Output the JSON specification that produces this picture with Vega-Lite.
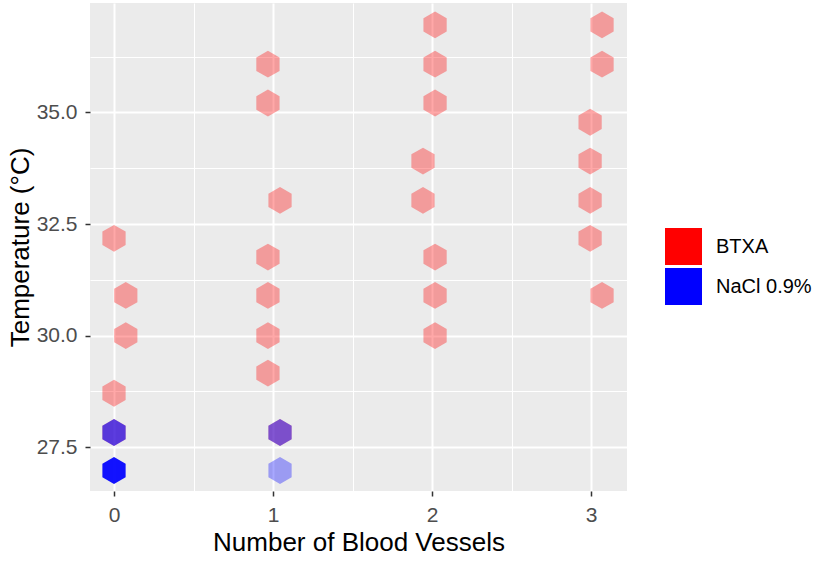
{
  "$schema": "https://vega.github.io/schema/vega-lite/v6.json",
  "width": 537,
  "height": 488,
  "autosize": "none",
  "padding": {"left": 90, "top": 3, "right": 209, "bottom": 85},
  "background": "white",
  "config": {
    "font": "Liberation Sans",
    "view": {"fill": "#EBEBEB", "stroke": null}
  },
  "data": {
    "values": [
      {"vessels": 0, "temp": 32.18, "group": "BTXA", "count": 1},
      {"vessels": 0.074, "temp": 30.9, "group": "BTXA", "count": 1},
      {"vessels": 0.074, "temp": 30.0, "group": "BTXA", "count": 1},
      {"vessels": 0, "temp": 28.71, "group": "BTXA", "count": 1},
      {"vessels": 0, "temp": 27.83, "group": "BTXA", "count": 1},
      {"vessels": 0.968, "temp": 36.08, "group": "BTXA", "count": 1},
      {"vessels": 0.968, "temp": 35.21, "group": "BTXA", "count": 1},
      {"vessels": 1.044, "temp": 33.03, "group": "BTXA", "count": 1},
      {"vessels": 0.968, "temp": 31.76, "group": "BTXA", "count": 1},
      {"vessels": 0.968, "temp": 30.9, "group": "BTXA", "count": 1},
      {"vessels": 0.968, "temp": 30.0, "group": "BTXA", "count": 1},
      {"vessels": 0.968, "temp": 29.16, "group": "BTXA", "count": 1},
      {"vessels": 1.044, "temp": 27.83, "group": "BTXA", "count": 1},
      {"vessels": 2.019, "temp": 36.96, "group": "BTXA", "count": 1},
      {"vessels": 2.019, "temp": 36.08, "group": "BTXA", "count": 1},
      {"vessels": 2.019, "temp": 35.21, "group": "BTXA", "count": 1},
      {"vessels": 1.943, "temp": 33.91, "group": "BTXA", "count": 1},
      {"vessels": 1.943, "temp": 33.03, "group": "BTXA", "count": 1},
      {"vessels": 2.019, "temp": 31.76, "group": "BTXA", "count": 1},
      {"vessels": 2.019, "temp": 30.9, "group": "BTXA", "count": 1},
      {"vessels": 2.019, "temp": 30.0, "group": "BTXA", "count": 1},
      {"vessels": 3.069, "temp": 36.96, "group": "BTXA", "count": 1},
      {"vessels": 3.069, "temp": 36.08, "group": "BTXA", "count": 1},
      {"vessels": 2.994, "temp": 34.78, "group": "BTXA", "count": 1},
      {"vessels": 2.994, "temp": 33.91, "group": "BTXA", "count": 1},
      {"vessels": 2.994, "temp": 33.03, "group": "BTXA", "count": 1},
      {"vessels": 2.994, "temp": 32.18, "group": "BTXA", "count": 1},
      {"vessels": 3.069, "temp": 30.9, "group": "BTXA", "count": 1},
      {"vessels": 0, "temp": 26.98, "group": "NaCl 0.9%", "count": 5},
      {"vessels": 0, "temp": 27.83, "group": "NaCl 0.9%", "count": 3},
      {"vessels": 1.044, "temp": 27.83, "group": "NaCl 0.9%", "count": 2},
      {"vessels": 1.044, "temp": 26.98, "group": "NaCl 0.9%", "count": 1}
    ]
  },
  "mark": {
    "type": "point",
    "filled": true,
    "shape": "M0,-1L0.866,-0.5L0.866,0.5L0,1L-0.866,0.5L-0.866,-0.5Z",
    "size": 720,
    "strokeWidth": 0
  },
  "encoding": {
    "x": {
      "field": "vessels",
      "type": "quantitative",
      "scale": {"domain": [-0.151, 3.226], "nice": false, "zero": false},
      "axis": {
        "title": "Number of Blood Vessels",
        "values": [0, 0.5, 1, 1.5, 2, 2.5, 3],
        "labelExpr": "datum.value % 1 === 0 ? format(datum.value, 'd') : ''",
        "domain": false,
        "grid": true,
        "gridColor": "white",
        "gridWidth": {"condition": {"test": "datum.value % 1 === 0", "value": 2}, "value": 1},
        "tickColor": "#333333",
        "tickWidth": 1.5,
        "tickSize": 5,
        "tickOpacity": {"condition": {"test": "datum.value % 1 === 0", "value": 1}, "value": 0},
        "labelFontSize": 21,
        "labelColor": "#4D4D4D",
        "labelPadding": 8,
        "titleFontSize": 26,
        "titleFontWeight": "normal",
        "titleColor": "black",
        "titlePadding": 4
      }
    },
    "y": {
      "field": "temp",
      "type": "quantitative",
      "scale": {"domain": [26.52, 37.45], "nice": false, "zero": false},
      "axis": {
        "title": "Temperature (°C)",
        "values": [27.5, 28.75, 30, 31.25, 32.5, 33.75, 35, 36.25],
        "labelExpr": "datum.value % 2.5 === 0 ? format(datum.value, '.1f') : ''",
        "domain": false,
        "grid": true,
        "gridColor": "white",
        "gridWidth": {"condition": {"test": "datum.value % 2.5 === 0", "value": 2}, "value": 1},
        "tickColor": "#333333",
        "tickWidth": 1.5,
        "tickSize": 5,
        "tickOpacity": {"condition": {"test": "datum.value % 2.5 === 0", "value": 1}, "value": 0},
        "labelFontSize": 21,
        "labelColor": "#4D4D4D",
        "labelPadding": 8,
        "titleFontSize": 26,
        "titleFontWeight": "normal",
        "titleColor": "black",
        "titlePadding": 3
      }
    },
    "color": {
      "field": "group",
      "type": "nominal",
      "scale": {"domain": ["BTXA", "NaCl 0.9%"], "range": ["#FF0000", "#0000FF"]},
      "legend": {
        "title": null,
        "orient": "none",
        "legendX": 575,
        "legendY": 225,
        "symbolType": "square",
        "symbolSize": 1369,
        "symbolOpacity": 1,
        "symbolStrokeWidth": 0,
        "labelFontSize": 20,
        "labelColor": "black",
        "labelOffset": 14,
        "rowPadding": 3,
        "padding": 0
      }
    },
    "opacity": {
      "field": "count",
      "type": "quantitative",
      "scale": {"domain": [1, 5], "range": [0.34, 0.93]},
      "legend": null
    }
  }
}
